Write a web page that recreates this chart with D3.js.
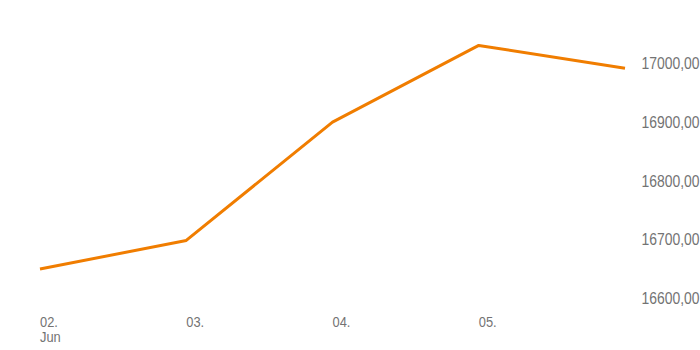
<!DOCTYPE html>
<html>
<head>
<meta charset="utf-8">
<script src="https://cdn.jsdelivr.net/npm/d3@7"></script>
<style>
  html, body { margin: 0; padding: 0; background: #fff; }
  svg { display: block; }
  text { font-family: "Liberation Sans", Arial, sans-serif; fill: #737373; }
</style>
</head>
<body>
<svg id="chart" width="700" height="350"></svg>
<script>
// Daily closing values, 2–6 June
const days = ["2023-06-02", "2023-06-03", "2023-06-04", "2023-06-05", "2023-06-06"];
const closes = [16648, 16697, 16899, 17030, 16991];

// Axis ticks
const xTickDays = ["2023-06-02", "2023-06-03", "2023-06-04", "2023-06-05"];
const xTickLabels = ["02.", "03.", "04.", "05."];
const xTickSub = ["Jun", "", "", ""];
const yTicks = [16600, 16700, 16800, 16900, 17000];

const parse = d3.timeParse("%Y-%m-%d");
const svg = d3.select("#chart");

// Narrow lettering: regular sans squeezed horizontally
const squeezeY = "scale(0.82,1)";
const squeezeX = "scale(0.92,1)";

const x = d3.scaleTime()
  .domain([parse(days[0]), parse(days[days.length - 1])])
  .range([40, 625]);

const y = d3.scaleLinear()
  .domain([16600, 17000])
  .range([297.2, 63]);

const fmt = v => d3.format(".2f")(v).replace(".", ",");

// Y axis labels on the right
const yAxis = d3.axisRight(y)
  .tickValues(yTicks)
  .tickFormat(fmt)
  .tickSize(0)
  .tickPadding(0);

svg.append("g")
  .attr("transform", "translate(641.5,0)")
  .call(yAxis)
  .call(g => g.attr("font-family", null).attr("font-size", null))
  .call(g => g.select(".domain").remove())
  .call(g => g.selectAll("text")
    .attr("fill", "#737373")
    .style("font-size", "17px")
    .attr("transform", squeezeY)
    .attr("dy", "0.35em"));

// X axis labels
const xg = svg.append("g").attr("class", "x-labels");
xTickDays.forEach((d, i) => {
  const tg = xg.append("g").attr("transform", `translate(${x(parse(d))},0)`);
  tg.append("text")
    .attr("y", 327)
    .attr("transform", squeezeX)
    .style("font-size", "14px")
    .text(xTickLabels[i]);
  if (xTickSub[i]) {
    tg.append("text")
      .attr("y", 342)
      .attr("transform", squeezeX)
      .style("font-size", "14px")
      .text(xTickSub[i]);
  }
});

// Price line
const line = d3.line()
  .x((d, i) => x(parse(days[i])))
  .y(d => y(d));

svg.append("path")
  .datum(closes)
  .attr("d", line)
  .attr("fill", "none")
  .attr("stroke", "#f07d00")
  .attr("stroke-width", 3)
  .attr("stroke-linejoin", "round");
</script>
</body>
</html>
